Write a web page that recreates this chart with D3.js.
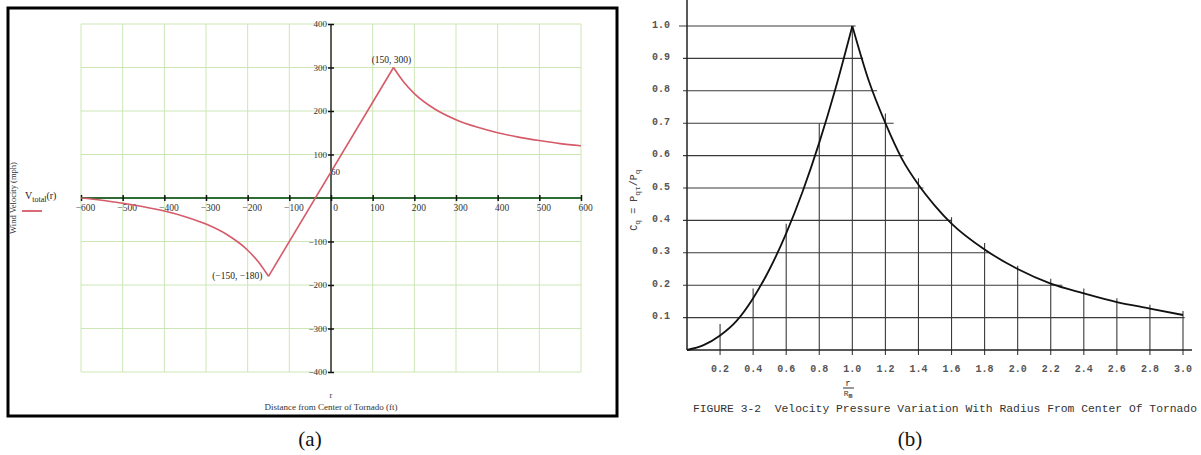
<!DOCTYPE html>
<html>
<head>
<meta charset="utf-8">
<script src="https://cdn.jsdelivr.net/npm/d3@7"></script>
<style>
  body { margin: 0; background: #fff; }
  svg { display: block; }
</style>
</head>
<body>
<svg id="chart" width="1201" height="455"></svg>
<script>
// --- (a) wind velocity ---
const rLeft  = [-600, -550, -500, -450, -400, -350, -300, -250, -200, -175, -150];
const vLeft  = [0, -5, -12, -20, -30, -43, -60, -84, -120, -146, -180];
const rMid   = [-150, 150];
const vMid   = [-180, 300];
const rRight = [150, 175, 200, 250, 300, 350, 400, 450, 500, 550, 600];
const vRight = [300, 266, 240, 204, 180, 163, 150, 140, 132, 125, 120];
const xTicksA = [-600, -500, -400, -300, -200, -100, 0, 100, 200, 300, 400, 500, 600];
const yTicksA = [-400, -300, -200, -100, 100, 200, 300, 400];

// --- (b) velocity pressure coefficient (rising core, decaying outside) ---
const rCore  = [0, 0.1, 0.2, 0.3, 0.4, 0.5, 0.6, 0.7, 0.8, 0.9, 1.0];
const cqCore = [0, 0.015, 0.045, 0.09, 0.16, 0.25, 0.36, 0.49, 0.64, 0.81, 1.0];
const rOut   = [1.0, 1.1, 1.2, 1.3, 1.4, 1.5, 1.6, 1.8, 2.0, 2.2, 2.4, 2.6, 2.8, 3.0];
const cqOut  = [1.0, 0.83, 0.7, 0.59, 0.51, 0.445, 0.39, 0.31, 0.25, 0.205, 0.175, 0.148, 0.128, 0.108];
const yTicksB = [0.1, 0.2, 0.3, 0.4, 0.5, 0.6, 0.7, 0.8, 0.9, 1.0];
const hGridEnd = [3.01, 2.27, 1.83, 1.60, 1.43, 1.31, 1.25, 1.15, 1.065, 1.02];
const xTicksB = [0.2, 0.4, 0.6, 0.8, 1.0, 1.2, 1.4, 1.6, 1.8, 2.0, 2.2, 2.4, 2.6, 2.8, 3.0];
const vGridTop = [0.08, 0.19, 0.39, 0.70, 1.0, 0.73, 0.53, 0.41, 0.33, 0.26, 0.22, 0.19, 0.16, 0.14, 0.12];

const svg = d3.select('#chart');
const serif = 'Liberation Serif, Times New Roman, serif';
const mono = 'Liberation Mono, DejaVu Sans Mono, monospace';
const fmtA = d => (d < 0 ? '\u2212' + Math.abs(d) : String(d));

// ===== panel (a) =====
const xA = d3.scaleLinear().domain([-600, 600]).range([81, 581]);
const yA = d3.scaleLinear().domain([-400, 400]).range([372, 24]);
const gA = svg.append('g');

gA.append('rect').attr('x', 8).attr('y', 8).attr('width', 609).attr('height', 408)
  .attr('fill', 'none').attr('stroke', '#000').attr('stroke-width', 3);

// grid
gA.selectAll('line.vg').data(d3.range(-600, 601, 100)).enter().append('line')
  .attr('x1', d => xA(d)).attr('x2', d => xA(d)).attr('y1', yA(400)).attr('y2', yA(-400))
  .attr('stroke', '#cde6b6').attr('stroke-width', 1);
gA.selectAll('line.hg').data(d3.range(-400, 401, 100)).enter().append('line')
  .attr('x1', xA(-600)).attr('x2', xA(600)).attr('y1', d => yA(d)).attr('y2', d => yA(d))
  .attr('stroke', '#cde6b6').attr('stroke-width', 1);

// x axis at v = 0
const axX = gA.append('g').attr('transform', `translate(0,${yA(0)})`)
  .call(d3.axisBottom(xA).tickValues(xTicksA).tickSize(3).tickFormat(fmtA));
axX.select('.domain').attr('stroke', '#2f6b34').attr('stroke-width', 2).attr('d', `M${xA(-600)},0H${xA(600)}`);
axX.selectAll('.tick line').attr('stroke', '#111').attr('stroke-width', 1.5).attr('y1', -3);
axX.selectAll('.tick text').attr('font-family', serif).attr('font-size', 9.5).attr('fill', '#333')
  .attr('dx', 4).attr('y', 6);

// y axis at r = 0
const axY = gA.append('g').attr('transform', `translate(${xA(0)},0)`)
  .call(d3.axisLeft(yA).tickValues(yTicksA).tickSize(3).tickFormat(fmtA));
axY.select('.domain').attr('stroke', '#111').attr('stroke-width', 1.3).attr('d', `M0,${yA(400)}V${yA(-400)}`);
axY.selectAll('.tick line').attr('stroke', '#111').attr('stroke-width', 1.5).attr('x2', 3).attr('x1', -3);
axY.selectAll('.tick text').attr('font-family', serif).attr('font-size', 9).attr('fill', '#333').attr('x', -4);

// curve
const lineA = d3.line().x(d => xA(d[0])).y(d => yA(d[1])).curve(d3.curveMonotoneX);
[[rLeft, vLeft], [rMid, vMid], [rRight, vRight]].forEach(([rs, vs]) => {
  gA.append('path').datum(rs.map((r, i) => [r, vs[i]]))
    .attr('d', lineA).attr('fill', 'none').attr('stroke', '#d65a68').attr('stroke-width', 1.6);
});

// annotations
gA.append('text').attr('x', xA(150) - 2).attr('y', yA(300) - 5).attr('text-anchor', 'middle')
  .attr('font-family', serif).attr('font-size', 9.5).attr('fill', '#222').text('(150, 300)');
gA.append('text').attr('x', xA(-150) - 6).attr('y', yA(-180) + 3).attr('text-anchor', 'end')
  .attr('font-family', serif).attr('font-size', 9.5).attr('fill', '#222').text('(\u2212150, \u2212180)');
gA.append('text').attr('x', xA(0)).attr('y', yA(60) + 3)
  .attr('font-family', serif).attr('font-size', 9).attr('fill', '#222').text('60');

// legend
const leg = gA.append('text').attr('x', 25).attr('y', 199).attr('font-family', serif)
  .attr('font-size', 10).attr('fill', '#222');
leg.append('tspan').text('V');
leg.append('tspan').attr('dy', 2.5).attr('font-size', 8).text('total');
leg.append('tspan').attr('dy', -2.5).text('(r)');
gA.append('line').attr('x1', 22).attr('x2', 42).attr('y1', 211).attr('y2', 211)
  .attr('stroke', '#d65a68').attr('stroke-width', 1.8);

// axis titles
gA.append('text').attr('transform', 'translate(16,198) rotate(-90)').attr('text-anchor', 'middle')
  .attr('font-family', serif).attr('font-size', 8.5).attr('fill', '#333').text('Wind Velocity (mph)');
gA.append('text').attr('x', xA(0)).attr('y', 398).attr('text-anchor', 'middle')
  .attr('font-family', serif).attr('font-size', 8.5).attr('fill', '#333').text('r');
gA.append('text').attr('x', xA(0)).attr('y', 410).attr('text-anchor', 'middle')
  .attr('font-family', serif).attr('font-size', 9).attr('fill', '#333').text('Distance from Center of Tornado (ft)');

// ===== panel (b) =====
const xB = d3.scaleLinear().domain([0, 3]).range([687, 1183]);
const yB = d3.scaleLinear().domain([0, 1]).range([350, 26]);
const gB = svg.append('g');
const ink = '#3a3a3a';

// horizontal grid lines, each stopping near the curve
gB.selectAll('line.hg').data(yTicksB).enter().append('line')
  .attr('x1', d => d === 1 ? xB(0) - 8 : xB(0) - 4).attr('x2', (d, i) => xB(hGridEnd[i]))
  .attr('y1', d => yB(d)).attr('y2', d => yB(d))
  .attr('stroke', ink).attr('stroke-width', 1.1);
// vertical grid lines
gB.selectAll('line.vg').data(xTicksB).enter().append('line')
  .attr('x1', d => xB(d)).attr('x2', d => xB(d))
  .attr('y1', (d, i) => yB(vGridTop[i])).attr('y2', yB(0) + 5)
  .attr('stroke', ink).attr('stroke-width', 1.1);

// axes
gB.append('line').attr('x1', xB(0)).attr('x2', xB(0)).attr('y1', 0).attr('y2', yB(0))
  .attr('stroke', '#222').attr('stroke-width', 1.5);
gB.append('line').attr('x1', xB(0)).attr('x2', 1192).attr('y1', yB(0)).attr('y2', yB(0))
  .attr('stroke', '#222').attr('stroke-width', 1.5);

gB.selectAll('text.xl').data(xTicksB).enter().append('text')
  .attr('x', d => xB(d)).attr('y', 372).attr('text-anchor', 'middle')
  .attr('font-family', mono).attr('font-size', 10).attr('font-weight', 'bold').attr('fill', '#555')
  .text(d => d.toFixed(1));
gB.selectAll('text.yl').data(yTicksB).enter().append('text')
  .attr('x', 670).attr('y', d => yB(d) - 1).attr('text-anchor', 'end').attr('dominant-baseline', 'middle')
  .attr('font-family', mono).attr('font-size', 10).attr('font-weight', 'bold').attr('fill', '#555')
  .text(d => d.toFixed(1));

// curve: two segments so the peak at r/Rm = 1 stays sharp
const lineB = d3.line().x(d => xB(d[0])).y(d => yB(d[1])).curve(d3.curveMonotoneX);
[[rCore, cqCore], [rOut, cqOut]].forEach(([rs, cs]) => {
  gB.append('path').datum(rs.map((r, i) => [r, cs[i]]))
    .attr('d', lineB).attr('fill', 'none').attr('stroke', '#111').attr('stroke-width', 1.8);
});

// titles
const yt = gB.append('text').attr('transform', 'translate(637,200) rotate(-90)').attr('text-anchor', 'middle')
  .attr('font-family', mono).attr('font-size', 10).attr('fill', '#444');
yt.append('tspan').text('C');
yt.append('tspan').attr('dy', 3).attr('font-size', 8).text('q');
yt.append('tspan').attr('dy', -3).text(' = P');
yt.append('tspan').attr('dy', 3).attr('font-size', 8).text('q\u03c4');
yt.append('tspan').attr('dy', -3).text('/P');
yt.append('tspan').attr('dy', 3).attr('font-size', 8).text('q');

gB.append('text').attr('x', 848).attr('y', 386).attr('text-anchor', 'middle')
  .attr('font-family', mono).attr('font-size', 9).attr('fill', '#333').text('r');
gB.append('line').attr('x1', 843).attr('x2', 854).attr('y1', 388).attr('y2', 388)
  .attr('stroke', '#333').attr('stroke-width', 1);
const rm = gB.append('text').attr('x', 848).attr('y', 396).attr('text-anchor', 'middle')
  .attr('font-family', mono).attr('font-size', 8).attr('fill', '#333');
rm.append('tspan').text('R');
rm.append('tspan').attr('dy', 1.5).attr('font-size', 6.5).attr('font-weight', 'bold').text('m');

gB.append('text').attr('x', 693).attr('y', 412).attr('textLength', 504).attr('lengthAdjust', 'spacingAndGlyphs')
  .attr('font-family', mono).attr('font-size', 10).attr('fill', '#333').attr('xml:space', 'preserve')
  .text('FIGURE 3-2  Velocity Pressure Variation With Radius From Center Of Tornado');

// panel captions
svg.append('text').attr('x', 310).attr('y', 446).attr('text-anchor', 'middle')
  .attr('font-family', serif).attr('font-size', 21).attr('fill', '#111').text('(a)');
svg.append('text').attr('x', 910).attr('y', 446).attr('text-anchor', 'middle')
  .attr('font-family', serif).attr('font-size', 21).attr('fill', '#111').text('(b)');
</script>
</body>
</html>
